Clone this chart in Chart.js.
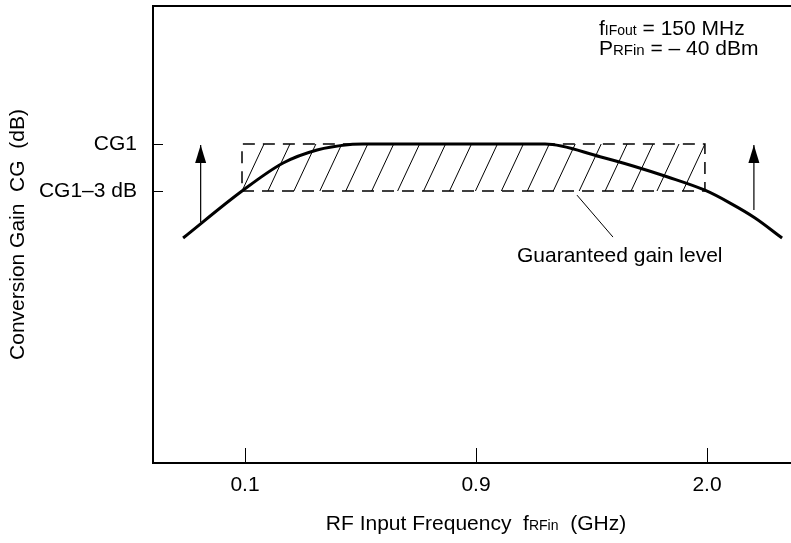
<!DOCTYPE html>
<html>
<head>
<meta charset="utf-8">
<script src="https://cdn.jsdelivr.net/npm/chart.js@4.4.1/dist/chart.umd.min.js"></script>
<style>
html,body{margin:0;padding:0;background:#fff;}
#wrap{width:791px;height:543px;position:relative;}
</style>
</head>
<body>
<div id="wrap"><canvas id="c" width="791" height="543"></canvas></div>
<script>
// ---- tick positions and labels (schematic axis) ----
const xTickPos = [1, 2, 3];
const xTickLabels = ['0.1', '0.9', '2.0'];
const yTickVals = [-3, 0];
const yTickLabels = ['CG1–3 dB', 'CG1'];

// ---- conversion gain curve (dB relative to CG1) ----
const curveX = [0.732, 0.987, 1.165, 1.312, 1.455, 1.511, 2.299, 2.537, 2.680, 2.827, 2.991, 3.100, 3.208, 3.325];
const curveY = [-6.0, -3.0, -1.21, -0.38, -0.03, 0, 0, -0.81, -1.40, -2.09, -2.95, -3.77, -4.72, -6.0];

// ---- guaranteed gain window ----
const boxX = [0.987, 2.991];
const boxY = [-3, 0];

// ---- arrows and leader line ----
const arrowLeftX = [0.808, 0.808];
const arrowLeftY = [-4.98, -0.06];
const arrowRightX = [3.203, 3.203];
const arrowRightY = [-4.21, -0.06];
const leaderX = [2.437, 2.593];
const leaderY = [-3.26, -5.94];

const FAM = '"Liberation Sans", Arial, Helvetica, sans-serif';
const FS = 21;

const pts = (xs, ys) => xs.map((x, i) => ({x: x, y: ys[i]}));
const boxPts = [
  {x: boxX[0], y: boxY[0]}, {x: boxX[1], y: boxY[0]},
  {x: boxX[1], y: boxY[1]}, {x: boxX[0], y: boxY[1]}, {x: boxX[0], y: boxY[0]}
];

function drawRich(ctx, parts, x, y, align) {
  let total = 0;
  parts.forEach(p => { ctx.font = p.s + 'px ' + FAM; p.w = ctx.measureText(p.t).width; total += p.w; });
  let cx = align === 'center' ? x - total / 2 : x;
  ctx.textAlign = 'left';
  ctx.textBaseline = 'alphabetic';
  parts.forEach(p => { ctx.font = p.s + 'px ' + FAM; ctx.fillText(p.t, cx, y); cx += p.w; });
}

const decor = {
  id: 'decor',
  beforeDatasetsDraw(chart) {
    const ctx = chart.ctx, xs = chart.scales.x, ys = chart.scales.y;
    const L = xs.getPixelForValue(boxX[0]), R = xs.getPixelForValue(boxX[1]);
    const T = ys.getPixelForValue(boxY[1]), B = ys.getPixelForValue(boxY[0]);
    ctx.save();
    ctx.beginPath(); ctx.rect(L, T, R - L, B - T); ctx.clip();
    ctx.beginPath();
    const shift = 22, n = 17, sp = (R - L - shift) / n;
    for (let k = 0; k <= n; k++) {
      ctx.moveTo(L + k * sp, B);
      ctx.lineTo(L + k * sp + shift, T);
    }
    ctx.strokeStyle = '#000'; ctx.lineWidth = 1; ctx.stroke();
    ctx.restore();
  },
  afterDatasetsDraw(chart) {
    const ctx = chart.ctx;
    chart.data.datasets.forEach((ds, i) => {
      if (!ds.arrow) return;
      const meta = chart.getDatasetMeta(i);
      const p = meta.data[meta.data.length - 1];
      ctx.save();
      ctx.beginPath();
      ctx.moveTo(p.x, p.y);
      ctx.lineTo(p.x - 5.5, p.y + 18);
      ctx.lineTo(p.x + 5.5, p.y + 18);
      ctx.closePath();
      ctx.fillStyle = '#000'; ctx.fill();
      ctx.restore();
    });
  },
  afterDraw(chart) {
    const ctx = chart.ctx, a = chart.chartArea, xs = chart.scales.x, ys = chart.scales.y;
    ctx.save();
    ctx.strokeStyle = '#000';
    // top frame line
    ctx.lineWidth = 2;
    ctx.beginPath(); ctx.moveTo(a.left - 1, a.top); ctx.lineTo(a.right, a.top); ctx.stroke();
    // inner tick marks
    ctx.lineWidth = 1;
    ctx.beginPath();
    xTickPos.forEach(v => { const px = Math.round(xs.getPixelForValue(v)) + 0.5; ctx.moveTo(px, a.bottom); ctx.lineTo(px, a.bottom - 15); });
    yTickVals.forEach(v => { const py = Math.round(ys.getPixelForValue(v)) + 0.5; ctx.moveTo(a.left, py); ctx.lineTo(a.left + 10, py); });
    ctx.stroke();
    // texts
    ctx.fillStyle = '#000';
    drawRich(ctx, [{t: 'f', s: FS}, {t: 'IFout', s: 14}, {t: ' = 150 MHz', s: FS}], 599, 35, 'left');
    drawRich(ctx, [{t: 'P', s: FS}, {t: 'RFin', s: 15}, {t: ' = – 40 dBm', s: FS}], 599, 55, 'left');
    drawRich(ctx, [{t: 'Guaranteed gain level', s: FS}], 517, 262, 'left');
    drawRich(ctx, [{t: 'RF Input Frequency  f', s: FS}, {t: 'RFin', s: 14}, {t: '  (GHz)', s: FS}], 476, 530, 'center');
    ctx.restore();
  }
};

new Chart(document.getElementById('c'), {
  type: 'scatter',
  data: {
    datasets: [
      {data: boxPts, showLine: true, borderColor: '#000', borderWidth: 1.5, borderDash: [12, 8], pointRadius: 0, tension: 0, fill: false},
      {data: pts(curveX, curveY), showLine: true, borderColor: '#000', borderWidth: 3, pointRadius: 0, cubicInterpolationMode: 'monotone', borderJoinStyle: 'round'},
      {data: pts(arrowLeftX, arrowLeftY), showLine: true, borderColor: '#000', borderWidth: 1.2, pointRadius: 0, arrow: true},
      {data: pts(arrowRightX, arrowRightY), showLine: true, borderColor: '#000', borderWidth: 1.2, pointRadius: 0, arrow: true},
      {data: pts(leaderX, leaderY), showLine: true, borderColor: '#000', borderWidth: 1, pointRadius: 0}
    ]
  },
  options: {
    responsive: false,
    animation: false,
    events: [],
    layout: {padding: {top: 6, right: 0, left: 0, bottom: 0}},
    plugins: {legend: {display: false}, tooltip: {enabled: false}},
    scales: {
      x: {
        type: 'linear', min: 0.6017, max: 3.3636,
        afterFit(s) { s.height = 80; s.paddingLeft = 0; s.paddingRight = 0; },
        afterBuildTicks(s) { s.ticks = xTickPos.map(v => ({value: v})); },
        ticks: {callback: (v, i) => xTickLabels[i], padding: 9.4, maxRotation: 0, autoSkip: false, color: '#000', font: {family: FAM, size: FS, lineHeight: 1.2}},
        grid: {display: false, drawTicks: false},
        border: {display: true, color: '#000', width: 2}
      },
      y: {
        type: 'linear', min: -20.36, max: 8.81,
        afterFit(s) { s.width = 153; s.paddingTop = 0; s.paddingBottom = 0; },
        afterBuildTicks(s) { s.ticks = yTickVals.map(v => ({value: v})); },
        ticks: {callback: (v, i) => yTickLabels[i], padding: 16, autoSkip: false, color: '#000', font: {family: FAM, size: FS, lineHeight: 1.2}},
        grid: {display: false, drawTicks: false},
        border: {display: true, color: '#000', width: 2},
        title: {display: true, text: 'Conversion Gain  CG  (dB)', color: '#000', font: {family: FAM, size: FS, lineHeight: 1.2}, padding: {top: 5.4, bottom: 0}}
      }
    }
  },
  plugins: [decor]
});
</script>
</body>
</html>
